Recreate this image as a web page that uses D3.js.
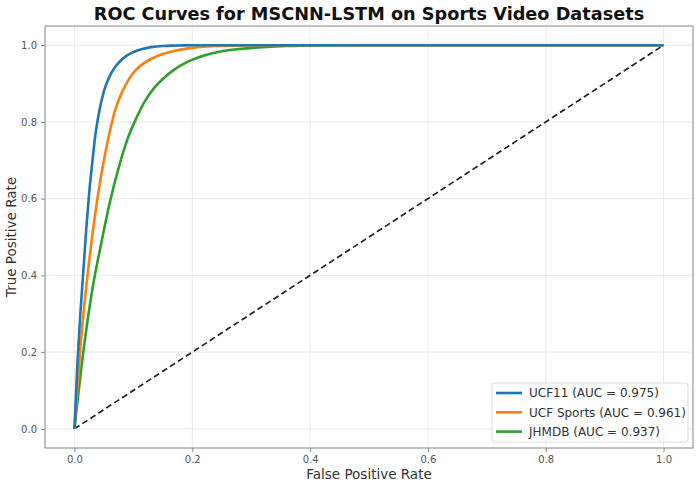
<!DOCTYPE html>
<html>
<head>
<meta charset="utf-8">
<script src="https://cdn.jsdelivr.net/npm/d3@7"></script>
<style>
    body { margin: 0; background: #fff; }
    #chart { width: 700px; height: 486px; }
    text { font-family: "DejaVu Sans", sans-serif; }
</style>
</head>
<body>
<div id="chart"></div>
<script>
// values
const ticks = [0, 0.2, 0.4, 0.6, 0.8, 1.0];

const ucf11Fpr = [0, 0.005, 0.010, 0.015, 0.020, 0.025, 0.030, 0.035, 0.040, 0.050, 0.060, 0.070, 0.080, 0.090, 0.100, 0.115, 0.130, 0.150, 0.175, 0.20, 0.30, 1.0];
const ucf11Tpr = [0, 0.17, 0.30, 0.41, 0.52, 0.615, 0.69, 0.76, 0.81, 0.88, 0.92, 0.945, 0.962, 0.974, 0.982, 0.990, 0.995, 0.998, 0.999, 1.0, 1.0, 1.0];

const sportsFpr = [0, 0.010, 0.020, 0.030, 0.040, 0.050, 0.060, 0.070, 0.080, 0.090, 0.100, 0.115, 0.130, 0.150, 0.175, 0.20, 0.25, 0.30, 0.40, 1.0];
const sportsTpr = [0, 0.21, 0.37, 0.50, 0.61, 0.70, 0.775, 0.835, 0.875, 0.905, 0.928, 0.950, 0.964, 0.977, 0.987, 0.993, 0.998, 0.9995, 1.0, 1.0];

const jhmdbFpr = [0, 0.015, 0.030, 0.045, 0.060, 0.075, 0.090, 0.105, 0.120, 0.135, 0.150, 0.170, 0.190, 0.220, 0.250, 0.280, 0.320, 0.360, 0.420, 0.50, 1.0];
const jhmdbTpr = [0, 0.20, 0.36, 0.48, 0.59, 0.68, 0.755, 0.81, 0.855, 0.888, 0.912, 0.937, 0.955, 0.973, 0.984, 0.990, 0.995, 0.998, 0.9995, 1.0, 1.0];

const seriesNames = ["UCF11 (AUC = 0.975)", "UCF Sports (AUC = 0.961)", "JHMDB (AUC = 0.937)"];
const seriesColors = ["#1f77b4", "#ff7f0e", "#2ca02c"];

const series = [
    { name: seriesNames[0], color: seriesColors[0], values: ucf11Fpr.map((f, i) => ({ fpr: f, tpr: ucf11Tpr[i] })) },
    { name: seriesNames[1], color: seriesColors[1], values: sportsFpr.map((f, i) => ({ fpr: f, tpr: sportsTpr[i] })) },
    { name: seriesNames[2], color: seriesColors[2], values: jhmdbFpr.map((f, i) => ({ fpr: f, tpr: jhmdbTpr[i] })) }
];

const margin = { top: 26, right: 7, bottom: 38, left: 45 };
const totalW = 700, totalH = 486;
const width = totalW - margin.left - margin.right;
const height = totalH - margin.top - margin.bottom;

const svg = d3.select("#chart").append("svg")
    .attr("width", totalW)
    .attr("height", totalH);

const plot = svg.append("g")
    .attr("transform", `translate(${margin.left},${margin.top})`);

const xScale = d3.scaleLinear().domain([-0.05, 1.05]).range([0, width]);
const yScale = d3.scaleLinear().domain([-0.05, 1.05]).range([height, 0]);

// grid
plot.append("g")
    .attr("class", "grid")
    .selectAll("line.gx")
    .data(ticks).enter()
    .append("line")
    .attr("x1", d => xScale(d)).attr("x2", d => xScale(d))
    .attr("y1", 0).attr("y2", height)
    .attr("stroke", "#e6e6e6").attr("stroke-width", 0.8);

plot.append("g")
    .attr("class", "grid")
    .selectAll("line.gy")
    .data(ticks).enter()
    .append("line")
    .attr("y1", d => yScale(d)).attr("y2", d => yScale(d))
    .attr("x1", 0).attr("x2", width)
    .attr("stroke", "#e6e6e6").attr("stroke-width", 0.8);

// axes
const fmt = d3.format(".1f");
const xAxis = plot.append("g")
    .attr("transform", `translate(0,${height})`)
    .call(d3.axisBottom(xScale).tickValues(ticks).tickFormat(fmt).tickSize(4).tickPadding(4));
const yAxis = plot.append("g")
    .call(d3.axisLeft(yScale).tickValues(ticks).tickFormat(fmt).tickSize(4).tickPadding(4));

[xAxis, yAxis].forEach(a => {
    a.select(".domain").remove();
    a.selectAll(".tick line").attr("stroke", "#888");
    a.selectAll(".tick text")
        .attr("fill", "#555")
        .style("font-size", "10px")
        .style("font-family", "DejaVu Sans, sans-serif");
});

// frame
plot.append("rect")
    .attr("x", 0).attr("y", 0)
    .attr("width", width).attr("height", height)
    .attr("fill", "none")
    .attr("stroke", "#999")
    .attr("stroke-width", 1.2);

// diagonal
plot.append("line")
    .attr("x1", xScale(0)).attr("y1", yScale(0))
    .attr("x2", xScale(1)).attr("y2", yScale(1))
    .attr("stroke", "#222")
    .attr("stroke-width", 1.7)
    .attr("stroke-dasharray", "6,3.5");

const line = d3.line()
    .curve(d3.curveMonotoneX)
    .x(d => xScale(d.fpr))
    .y(d => yScale(d.tpr));

plot.selectAll(".roc")
    .data(series.slice().reverse()).enter()
    .append("path")
    .attr("class", "roc")
    .attr("fill", "none")
    .attr("stroke", d => d.color)
    .attr("stroke-width", 2.6)
    .attr("stroke-linejoin", "round")
    .attr("d", d => line(d.values));

// title and labels
svg.append("text")
    .attr("x", margin.left + width / 2)
    .attr("y", 20)
    .attr("text-anchor", "middle")
    .style("font-size", "17.7px")
    .style("font-weight", "bold")
    .attr("fill", "#111")
    .text("ROC Curves for MSCNN-LSTM on Sports Video Datasets");

svg.append("text")
    .attr("x", margin.left + width / 2)
    .attr("y", 479)
    .attr("text-anchor", "middle")
    .style("font-size", "13.5px")
    .attr("fill", "#333")
    .text("False Positive Rate");

svg.append("text")
    .attr("transform", `translate(16,${margin.top + height / 2}) rotate(-90)`)
    .attr("text-anchor", "middle")
    .style("font-size", "13.5px")
    .attr("fill", "#333")
    .text("True Positive Rate");

// legend
const legend = svg.append("g")
    .attr("transform", "translate(492,383)");

legend.append("rect")
    .attr("width", 196).attr("height", 59)
    .attr("rx", 3)
    .attr("fill", "#fff").attr("fill-opacity", 0.85)
    .attr("stroke", "#ddd");

const items = legend.selectAll(".item")
    .data(series).enter()
    .append("g")
    .attr("transform", (d, i) => `translate(0,${10 + i * 19.3})`);

items.append("line")
    .attr("x1", 4).attr("x2", 30)
    .attr("stroke", d => d.color)
    .attr("stroke-width", 2.6);

items.append("text")
    .attr("x", 37)
    .attr("dy", "0.35em")
    .style("font-size", "12px")
    .attr("fill", "#333")
    .text(d => d.name);
</script>
</body>
</html>
